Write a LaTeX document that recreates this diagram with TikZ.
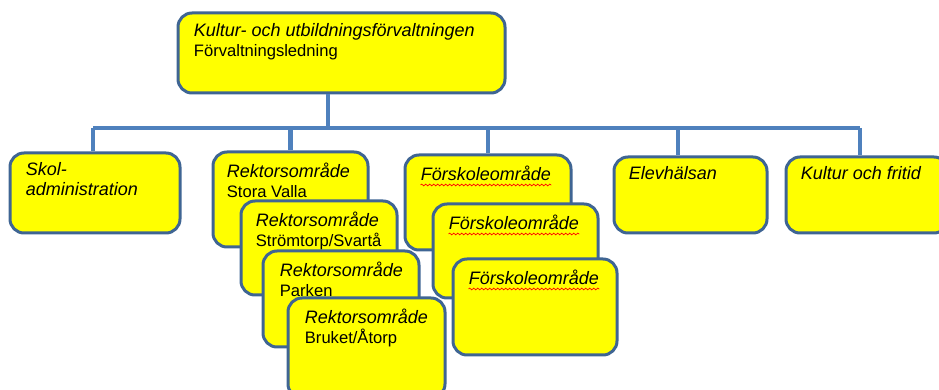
\documentclass[tikz,border=0pt]{standalone}
\usepackage{fontspec}
\setmainfont{Liberation Sans}
\usetikzlibrary{fit,positioning,decorations.pathmorphing}

\definecolor{unitfill}{HTML}{FFFF00}
\definecolor{unitline}{HTML}{3F6593}
\definecolor{linkblue}{HTML}{4F81BD}

\newcommand{\placename}[1]{{\fontsize{8.3}{10}\selectfont #1}}

\begin{document}
\begin{tikzpicture}[x=0.5pt,y=-0.5pt,
	unit/.style={draw=unitline,fill=unitfill,line width=1.5pt,rounded corners=7pt,inner sep=0pt},
	txt/.style={anchor=north west,inner sep=0pt,align=left,font=\fontsize{9}{10}\selectfont},
	link/.style={draw=linkblue,line width=2.4pt},
	squig/.style={draw=red,line width=0.35pt,decorate,decoration={snake,amplitude=0.45pt,segment length=2pt}}]

	\useasboundingbox (0,0) rectangle (939,390);

	%bus line and drops
	\coordinate (hub) at (328,128);
	\coordinate (busL) at (93,128);
	\coordinate (busR) at (860,128);
	\coordinate (elevdrop) at (678,128);

	%top box
	\node[unit, fit={(178,13) (505,93)}] (top) {};
	\node[txt] (topt) at ([shift={(17,12)}]top.north west)
		{\textit{Kultur- och utbildningsförvaltningen}\\\placename{Förvaltningsledning}};

	\draw[link] (top.south -| hub) -- (hub);
	\draw[link] (busL) -- (busR);

	%second level boxes
	\node[unit, fit={(10,153) (180,233)}] (skol) {};
	\node[unit, fit={(614,157) (767,233)}] (elev) {};
	\node[unit, fit={(786,157) (948,233)}] (kult) {};

	\draw[link] (busL) -- (busL |- skol.north);
	\draw[link] (elevdrop) -- (elevdrop |- elev.north);
	\draw[link] (busR) -- (busR |- kult.north);

	\node[txt] (skolt) at ([shift={(17,11)}]skol.north west) {\textit{Skol-}\\\textit{administration}};
	\node[txt] (elevt) at ([shift={(16,11)}]elev.north west) {\textit{Elevhälsan}};
	\node[txt] (kultt) at ([shift={(16,11)}]kult.north west) {\textit{Kultur och fritid}};

	%rektorsomraden
	\node[unit, fit={(213,152) (368,247)}] (rekt1) {};
	\draw[link] (rekt1.north |- hub) -- (rekt1.north);
	\node[txt] (rekt1t) at ([shift={(15,12)}]rekt1.north west) {\textit{Rektorsområde}\\\placename{Stora Valla}};

	\node[unit, fit={(241,201) (397,295)}] (rekt2) {};
	\node[txt] (rekt2t) at ([shift={(16,12)}]rekt2.north west) {\textit{Rektorsområde}\\\placename{Strömtorp/Svartå}};

	\node[unit, fit={(263,251) (419,347)}] (rekt3) {};
	\node[txt] (rekt3t) at ([shift={(18,12)}]rekt3.north west) {\textit{Rektorsområde}\\\placename{Parken}};

	\node[unit, fit={(288,298) (445,398)}] (rekt4) {};
	\node[txt] (rekt4t) at ([shift={(18,12)}]rekt4.north west) {\textit{Rektorsområde}\\\placename{Bruket/Åtorp}};

	%forskoleomraden
	\node[unit, fit={(405,155) (571,250)}] (fsk1) {};
	\draw[link] (fsk1.north |- hub) -- (fsk1.north);
	\node[txt] (fsk1t) at ([shift={(17,12)}]fsk1.north west) {\textit{Förskoleområde}};
	\draw[squig] ([yshift=-2pt]fsk1t.south west) -- ([yshift=-2pt]fsk1t.south east);

	\node[unit, fit={(433,204) (598,298)}] (fsk2) {};
	\node[txt] (fsk2t) at ([shift={(17,12)}]fsk2.north west) {\textit{Förskoleområde}};
	\draw[squig] ([yshift=-2pt]fsk2t.south west) -- ([yshift=-2pt]fsk2t.south east);

	\node[unit, fit={(453,259) (617,355)}] (fsk3) {};
	\node[txt] (fsk3t) at ([shift={(17,12)}]fsk3.north west) {\textit{Förskoleområde}};
	\draw[squig] ([yshift=-2pt]fsk3t.south west) -- ([yshift=-2pt]fsk3t.south east);

\end{tikzpicture}
\end{document}
